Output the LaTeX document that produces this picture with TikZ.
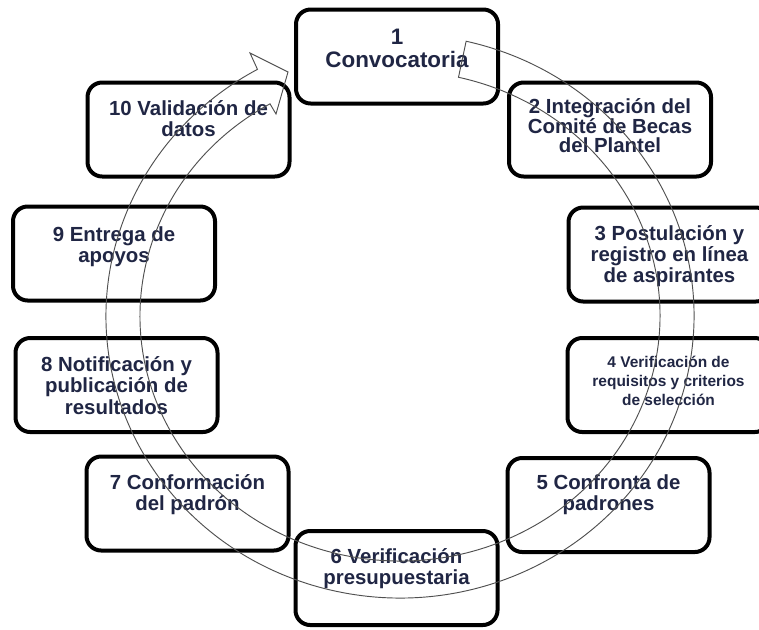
\documentclass[tikz,border=0pt]{standalone}
\usepackage{fontspec}
\setmainfont{Liberation Sans}
\usetikzlibrary{positioning}
\definecolor{tinta}{RGB}{32,38,68}
\definecolor{trazo}{RGB}{80,80,80}

\begin{document}
\begin{tikzpicture}[x=0.75pt,y=-0.75pt,
    caja/.style={draw, line width=3pt, rounded corners=11pt, minimum width=151.5pt, minimum height=70.5pt, inner sep=0pt, outer sep=0pt},
    texto/.style={inner sep=0pt, align=center, text=tinta, font=\bfseries\fontsize{15.3}{16}\selectfont},
    banda/.style={draw=trazo, line width=0.7pt}]
    % marco de la figura
    \clip (0,0) rectangle (759,629);
    \fill[white] (0,0) rectangle (759,629);
    \coordinate (C) at (400,316);

    % cajas del ciclo
    \node[caja] (b1) at (397,56.5) {};
    \node[caja] (b2) at (610,129.5) {};
    \node[caja] (b3) at (669.5,254.5) {};
    \node[caja] (b4) at (668.5,385) {};
    \node[caja] (b5) at (608.5,505) {};
    \node[caja] (b6) at (396.5,578) {};
    \node[caja] (b7) at (187.5,503.5) {};
    \node[caja] (b8) at (116.5,385) {};
    \node[caja] (b9) at (114,253.5) {};
    \node[caja] (b10) at (188.5,129.5) {};

    % textos
    \node[texto, font=\bfseries\fontsize{16.8}{17.6}\selectfont, below=14.4pt of b1.north] (t1) {1\\Convocatoria};
    \node[texto, font=\bfseries\fontsize{15.3}{14}\selectfont, below=11.5pt of b2.north] (t2) {2 Integración del\\Comité de Becas\\del Plantel};
    \node[texto, below=13pt of b3.north] (t3) {3 Postulación y\\registro en línea\\de aspirantes};
    \node[texto, font=\bfseries\fontsize{11.6}{14.2}\selectfont, below=13.7pt of b4.north] (t4) {4 Verificación de\\requisitos y criterios\\de selección};
    \node[texto, below=12.3pt of b5.north] (t5) {5 Confronta de\\padrones};
    \node[texto, below=13pt of b6.north] (t6) {6 Verificación\\presupuestaria};
    \node[texto, below=13pt of b7.north] (t7) {7 Conformación\\del padrón};
    \node[texto, below=13.8pt of b8.north] (t8) {8 Notificación y\\publicación de\\resultados};
    \node[texto, below=15pt of b9.north] (t9) {9 Entrega de\\apoyos};
    \node[texto, below=13pt of b10.north] (t10) {10 Validación de\\datos};

    % flecha circular hueca
    \draw[banda] ([shift={(-77:294 and 282)}]C)
        arc[start angle=-77, end angle=241, x radius=294, y radius=282]
        -- (250,53) -- (288,72) -- (276,114)
        -- ([shift={(240:260 and 245)}]C)
        arc[start angle=240, end angle=-77, x radius=260, y radius=245]
        -- cycle;
\end{tikzpicture}
\end{document}
